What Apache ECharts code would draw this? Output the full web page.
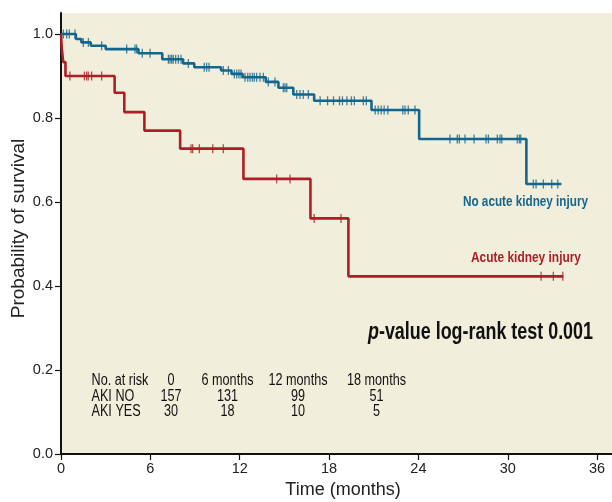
<!DOCTYPE html>
<html><head><meta charset="utf-8">
<script src="https://cdn.jsdelivr.net/npm/echarts@6/dist/echarts.min.js"></script>
<style>html,body{margin:0;padding:0;background:#fff}#c{width:612px;height:502px}</style>
</head><body><div id="c"></div>
<script>
// ---- data ----
const xTicks = [0, 6, 12, 18, 24, 30, 36];
const yTicks = [0, 0.2, 0.4, 0.6, 0.8, 1.0];
const noAkiSteps = [[0,1],[1.0,0.988],[1.37,0.98],[2.0,0.972],[3.0,0.964],[5.2,0.954],[6.8,0.94],[8.2,0.93],[8.95,0.921],[10.75,0.913],[11.45,0.905],[12.2,0.897],[13.75,0.886],[14.6,0.872],[15.6,0.856],[17.0,0.841],[20.85,0.819],[24.05,0.75],[31.25,0.643],[33.6,0.643]];
const noAkiCensor = [0.16,0.38,0.56,0.94,1.5,1.84,2.73,4.41,4.97,5.08,5.46,5.98,7.21,7.32,7.43,7.54,7.7,7.88,8.06,8.55,9.62,9.78,9.94,10.9,11.24,11.64,11.8,11.95,12.09,12.36,12.54,12.69,12.85,12.98,13.14,13.36,13.59,13.92,14.37,14.93,15.04,15.16,15.83,16.05,16.27,16.61,17.4,17.9,18.3,18.7,18.9,19.2,19.5,19.7,20.3,20.5,21.1,21.3,21.5,21.7,21.95,22.95,23.1,23.32,23.77,26.12,26.61,26.75,27.13,27.74,28.54,28.7,29.3,29.48,29.6,30.64,30.78,30.87,31.72,31.9,32.39,32.95,33.36];
const akiSteps = [[0,1],[0.05,0.967],[0.15,0.933],[0.3,0.9],[3.6,0.86],[4.25,0.814],[5.6,0.77],[8.0,0.727],[12.25,0.655],[16.75,0.561],[19.3,0.423],[33.73,0.423]];
const akiCensor = [0.6,1.57,1.72,1.83,2.06,2.73,8.73,8.84,9.29,10.19,10.9,14.48,15.38,17.0,18.8,32.24,33.06,33.7];
const riskHeader = ['No. at risk','0','6 months','12 months','18 months'];
const riskRowNames = ['AKI NO','AKI YES'];
const riskNo = [157, 131, 99, 51];
const riskYes = [30, 18, 10, 5];
const seriesNames = ['No acute kidney injury', 'Acute kidney injury'];
const pValueText = '0.001';

// ---- helpers ----
function survAt(steps, t) {
  let v = steps[0][1];
  for (const s of steps) { if (s[0] <= t) v = s[1]; else break; }
  return v;
}
const BLUE = '#13668e', RED = '#ad1f24', INK = '#111';
const SANS = "'Liberation Sans',Arial,sans-serif";
const mctx = document.createElement('canvas').getContext('2d');
function textWidth(str, font) { mctx.font = font; return mctx.measureText(str).width; }
// condensed look: horizontal squeeze of a text element to a target width
function ctext(str, x, y, size, weight, color, align, targetW) {
  const font = weight + ' ' + size + 'px ' + SANS;
  const sx = targetW ? targetW / textWidth(str, font) : 0.8;
  return {type: 'text', x: x, y: y, scaleX: sx, scaleY: 1, originX: 0, originY: 0,
    style: {text: str, font: font, fill: color, align: align, verticalAlign: 'middle'}};
}

const RS = 0.79; // squeeze for risk table
const riskColX = [171, 227.5, 298, 376.5];
const riskRowY = [381, 396.5, 412];
const graphics = [];
function rt(str, x, y, align) {
  const font = 'normal 16px ' + SANS;
  return {type: 'text', x: x, y: y, scaleX: RS, originX: 0, originY: 0,
    style: {text: str, font: font, fill: INK, align: align, verticalAlign: 'middle'}};
}
graphics.push(rt(riskHeader[0], 91.5, riskRowY[0], 'left'));
graphics.push(rt(riskRowNames[0], 91.5, riskRowY[1], 'left'));
graphics.push(rt(riskRowNames[1], 91.5, riskRowY[2], 'left'));
for (let i = 0; i < 4; i++) {
  graphics.push(rt(riskHeader[i + 1], riskColX[i], riskRowY[0], 'center'));
  graphics.push(rt(String(riskNo[i]), riskColX[i], riskRowY[1], 'center'));
  graphics.push(rt(String(riskYes[i]), riskColX[i], riskRowY[2], 'center'));
}
graphics.push(ctext(seriesNames[0], 463, 202, 15, 'bold', BLUE, 'left', 125));
graphics.push(ctext(seriesNames[1], 471, 257.5, 15, 'bold', RED, 'left', 110));
(function () {
  const size = 23;
  const fi = 'italic bold ' + size + 'px ' + SANS, fn = 'bold ' + size + 'px ' + SANS;
  const rest = '-value log-rank test ' + pValueText;
  const w = textWidth('p', fi) + textWidth(rest, fn);
  graphics.push({type: 'text', x: 368, y: 333, scaleX: 225 / w, originX: 0, originY: 0,
    style: {text: '{i|p}{n|' + rest + '}', align: 'left', verticalAlign: 'middle',
      rich: {i: {font: fi, fill: INK}, n: {font: fn, fill: INK}}}});
})();

const option = {
  animation: false,
  backgroundColor: '#ffffff',
  grid: {left: 61, right: 0, top: 13, bottom: 48, containLabel: false, outerBoundsMode: 'none',
    show: true, backgroundColor: '#f2eedc', borderWidth: 0},
  xAxis: {
    type: 'value', min: 0, max: 37,
    name: 'Time (months)', nameLocation: 'middle', nameGap: 27, nameMoveOverlap: false,
    nameTextStyle: {fontFamily: SANS, fontSize: 18, color: '#222', padding: [0,0,0,13]},
    axisLine: {show: true, onZero: false, lineStyle: {color: INK, width: 2}},
    axisTick: {show: true, length: 6, customValues: xTicks, lineStyle: {color: INK, width: 1.2}},
    axisLabel: {customValues: xTicks, fontFamily: SANS, fontSize: 14.5, color: '#222', margin: 7},
    splitLine: {show: false}
  },
  yAxis: {
    type: 'value', min: 0, max: 1.05,
    name: 'Probability of survival', nameLocation: 'middle', nameGap: 33, nameMoveOverlap: false,
    nameTextStyle: {fontFamily: SANS, fontSize: 19, color: '#222', padding: [0,0,0,10]},
    axisLine: {show: true, onZero: false, lineStyle: {color: INK, width: 2}},
    axisTick: {show: true, length: 6, customValues: yTicks, lineStyle: {color: INK, width: 1.2}},
    axisLabel: {customValues: yTicks, fontFamily: SANS, fontSize: 14.5, color: '#222', margin: 8,
      formatter: v => v.toFixed(1)},
    splitLine: {show: false}
  },
  graphic: graphics,
  series: [
    {type: 'line', name: seriesNames[0], step: 'end', data: noAkiSteps, showSymbol: false, symbol: 'none',
      lineStyle: {color: BLUE, width: 2.6}, z: 3},
    {type: 'line', name: seriesNames[1], step: 'end', data: akiSteps, showSymbol: false, symbol: 'none',
      lineStyle: {color: RED, width: 2.6}, z: 3},
    {type: 'scatter', data: noAkiCensor.map(t => [t, survAt(noAkiSteps, t)]), symbol: 'rect', symbolSize: [1.3, 9],
      itemStyle: {color: BLUE}, z: 4},
    {type: 'scatter', data: akiCensor.map(t => [t, survAt(akiSteps, t)]), symbol: 'rect', symbolSize: [1.3, 9],
      itemStyle: {color: RED}, z: 4}
  ]
};
const chart = echarts.init(document.getElementById('c'));
chart.setOption(option);
</script></body></html>
